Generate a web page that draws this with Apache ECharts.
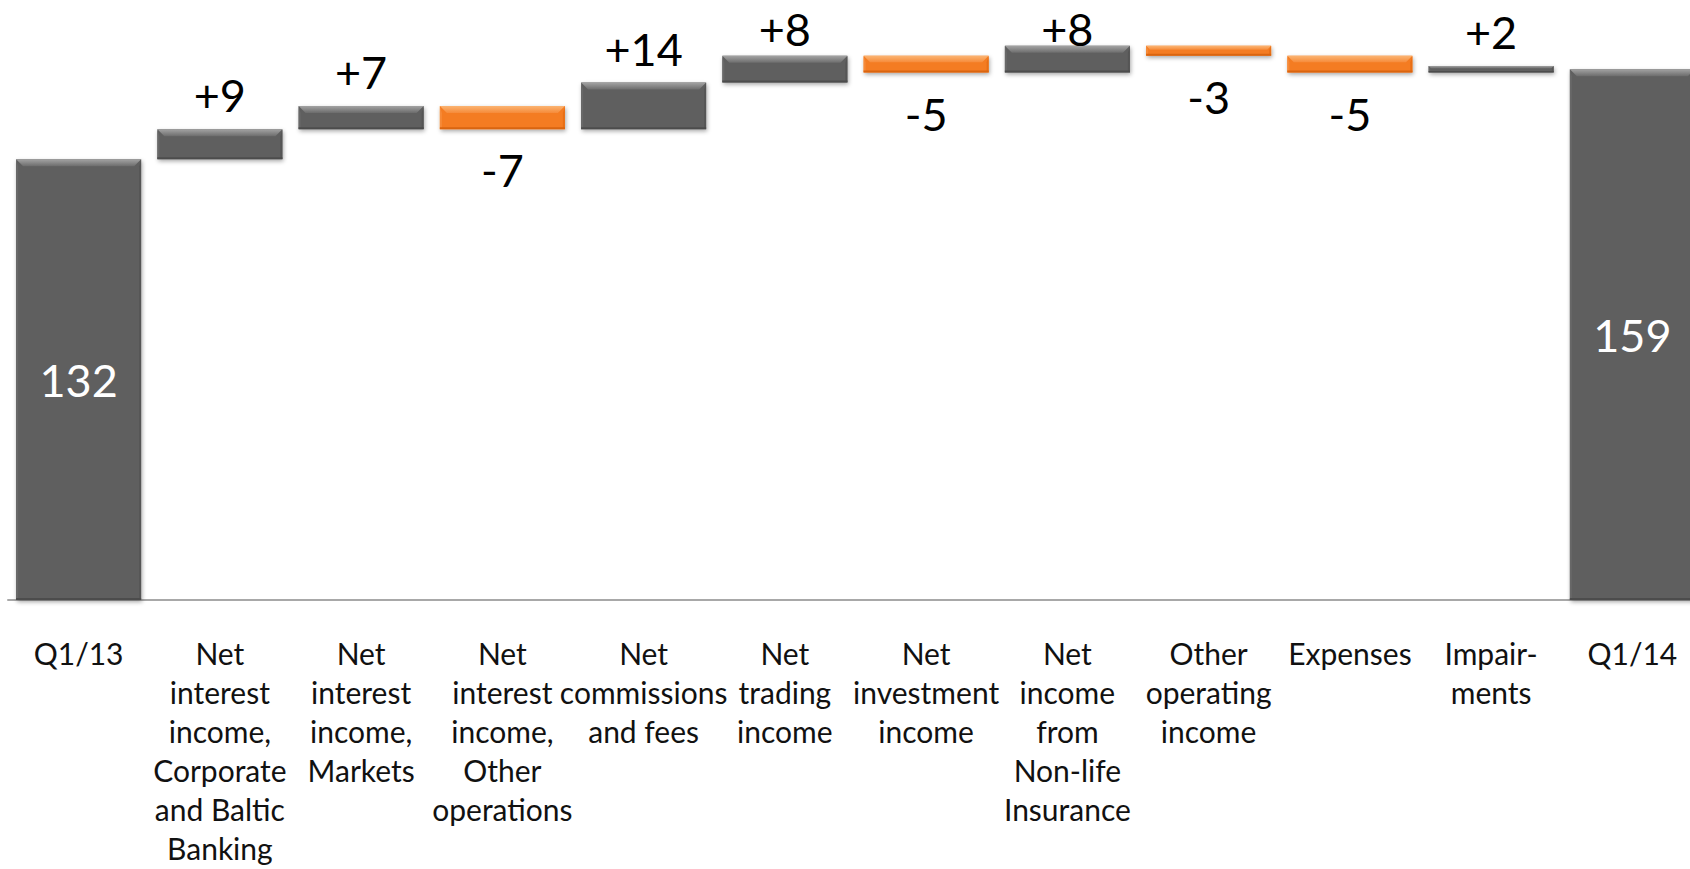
<!DOCTYPE html>
<html>
<head>
<meta charset="utf-8">
<title>Operating profit bridge Q1/13 – Q1/14</title>
<script src="https://cdn.jsdelivr.net/npm/echarts@6/dist/echarts.min.js"></script>
<style>
  html, body { margin: 0; padding: 0; background: #ffffff; }
  #chart { width: 1690px; height: 869px; }
</style>
</head>
<body>
<div id="chart"></div>
<script>
// Bridge categories (line breaks as they wrap under the axis)
const categories = [
  'Q1/13',
  'Net\ninterest\nincome,\nCorporate\nand Baltic\nBanking',
  'Net\ninterest\nincome,\nMarkets',
  'Net\ninterest\nincome,\nOther\noperations',
  'Net\ncommissions\nand fees',
  'Net\ntrading\nincome',
  'Net\ninvestment\nincome',
  'Net\nincome\nfrom\nNon-life\nInsurance',
  'Other\noperating\nincome',
  'Expenses',
  'Impair-\nments',
  'Q1/14'
];

// Opening and closing totals
const startTotal = 132;
const endTotal = 159;

// Change contributed by each bridge item
const changes = [9, 7, -7, 14, 8, -5, 8, -3, -5, 2];

// Rows for the custom series: [category index, low, high, value, kind]
// kind: 0 = total, 1 = increase, 2 = decrease
const rows = [];
rows.push([0, 0, startTotal, startTotal, 0]);
let level = startTotal;
changes.forEach(function (d, i) {
  const next = level + d;
  rows.push([i + 1, Math.min(level, next), Math.max(level, next), d, d >= 0 ? 1 : 2]);
  level = next;
});
rows.push([categories.length - 1, 0, endTotal, endTotal, 0]);

const palette = {
  grey:   { main: '#5e5e5e', hi: '#a3a3a3', mid: '#6c6c6c', left: '#686868', right: '#555555', bottom: '#4c4c4c' },
  orange: { main: '#f47b20', hi: '#fbb472', mid: '#f68b3a', left: '#f68a38', right: '#e86f16', bottom: '#d96510' }
};

const labelFont = 'Lato, "Open Sans", sans-serif';

function renderItem(params, api) {
  const idx = api.value(0);
  const lo = api.value(1);
  const hi = api.value(2);
  const val = api.value(3);
  const kind = api.value(4);

  const pTop = api.coord([idx, hi]);
  const pBot = api.coord([idx, lo]);
  const w = api.size([1, 0])[0] * 0.885;
  const x = pTop[0] - w / 2;
  const y = pTop[1];
  const h = Math.max(pBot[1] - pTop[1], 1);
  const c = kind === 2 ? palette.orange : palette.grey;
  const b = Math.min(7, h / 2.6);
  const s = Math.min(2, h / 4);

  const children = [
    {
      type: 'rect',
      shape: { x: x, y: y, width: w, height: h },
      style: {
        fill: c.main,
        shadowBlur: 4,
        shadowOffsetX: 1,
        shadowOffsetY: 2,
        shadowColor: 'rgba(0,0,0,0.35)'
      }
    },
    {
      type: 'polygon',
      shape: { points: [[x, y], [x + w, y], [x + w - b, y + b], [x + b, y + b]] },
      style: {
        fill: {
          type: 'linear', x: 0, y: 0, x2: 0, y2: 1,
          colorStops: [{ offset: 0, color: c.hi }, { offset: 1, color: c.mid }]
        }
      }
    },
    {
      type: 'polygon',
      shape: { points: [[x, y], [x + s, y + b], [x + s, y + h - s], [x, y + h]] },
      style: { fill: c.left }
    },
    {
      type: 'polygon',
      shape: { points: [[x + w, y], [x + w - s, y + b], [x + w - s, y + h - s], [x + w, y + h]] },
      style: { fill: c.right }
    },
    {
      type: 'rect',
      shape: { x: x, y: y + h - s, width: w, height: s },
      style: { fill: c.bottom }
    }
  ];

  // Totals are labelled inside the bar, increases above it, decreases below it;
  // labels above the bars never rise past the top margin of the chart.
  let text, ty, fill;
  if (kind === 0) {
    text = String(val);
    ty = y + h / 2;
    fill = '#ffffff';
  } else if (kind === 1) {
    text = '+' + val;
    ty = Math.max(y - 34, 29);
    fill = '#000000';
  } else {
    text = String(val);
    ty = y + h + 41;
    fill = '#000000';
  }
  children.push({
    type: 'text',
    style: {
      text: text,
      x: pTop[0],
      y: ty,
      fill: fill,
      fontSize: 45,
      fontFamily: labelFont,
      align: 'center',
      verticalAlign: 'middle'
    }
  });

  return { type: 'group', children: children };
}

const chart = echarts.init(document.getElementById('chart'), null, { renderer: 'svg' });

chart.setOption({
  animation: false,
  backgroundColor: '#ffffff',
  grid: {
    left: 8,
    width: 1695,
    top: 32.5,
    bottom: 269,
    containLabel: false,
    outerBoundsMode: 'none'
  },
  xAxis: {
    type: 'category',
    data: categories,
    axisTick: { show: false },
    axisLine: { show: true, lineStyle: { color: '#a8a8a8', width: 2 } },
    axisLabel: {
      interval: 0,
      margin: 33,
      color: '#111111',
      fontSize: 30,
      lineHeight: 39,
      fontFamily: labelFont,
      align: 'center'
    },
    splitLine: { show: false }
  },
  yAxis: {
    type: 'value',
    min: 0,
    max: 170,
    show: false,
    splitLine: { show: false }
  },
  series: [{
    type: 'custom',
    renderItem: renderItem,
    encode: { x: 0, y: [1, 2] },
    data: rows,
    clip: false
  }]
});
</script>
</body>
</html>
